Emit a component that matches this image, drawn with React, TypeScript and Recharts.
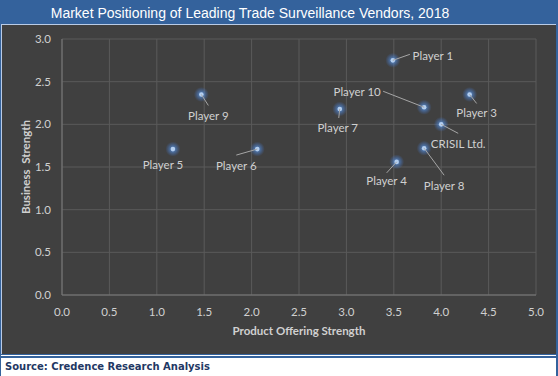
import React from 'react';
import { ScatterChart, Scatter, XAxis, YAxis, CartesianGrid } from 'recharts';

const vendors = ['Player 1', 'Player 10', 'Player 3', 'CRISIL Ltd.', 'Player 8', 'Player 4', 'Player 9', 'Player 7', 'Player 5', 'Player 6'];
const productOffering = [3.49, 3.82, 4.3, 4.0, 3.82, 3.53, 1.47, 2.93, 1.17, 2.06];
const businessStrength = [2.75, 2.2, 2.35, 2.0, 1.72, 1.56, 2.35, 2.18, 1.71, 1.71];
const xTicks = [0, 0.5, 1, 1.5, 2, 2.5, 3, 3.5, 4, 4.5, 5];
const yTicks = [0, 0.5, 1, 1.5, 2, 2.5, 3];

const titleText = 'Market Positioning of Leading Trade Surveillance Vendors, 2018';
const xTitle = 'Product Offering Strength';
const yTitle = 'Business  Strength';
const sourceText = 'Source: Credence Research Analysis';

// data-label placement (pixel offsets from the marker), like Excel's dragged labels
const labelPlacement: Record<string, { dx: number; dy: number; lx?: number; ly?: number }> = {
  'Player 1': { dx: 40, dy: -5, lx: 17, ly: -6 },
  'Player 10': { dx: -67, dy: -16, lx: -41, ly: -16 },
  'Player 3': { dx: 7, dy: 18, lx: 7, ly: 9 },
  'CRISIL Ltd.': { dx: 17, dy: 19, lx: 17, ly: 9 },
  'Player 8': { dx: 20, dy: 37, lx: 20, ly: 27 },
  'Player 4': { dx: -10, dy: 19, lx: -10, ly: 11 },
  'Player 9': { dx: 7, dy: 21, lx: 7, ly: 11 },
  'Player 7': { dx: -2, dy: 19, lx: -1, ly: 9 },
  'Player 5': { dx: -10, dy: 15 },
  'Player 6': { dx: -21, dy: 16, lx: -21, ly: 6 },
};

const data = vendors.map((name, i) => ({ name, x: productOffering[i], y: businessStrength[i] }));

const PointShape = (props: any) => {
  const { cx, cy, payload } = props;
  if (cx == null || cy == null) return null;
  const p = labelPlacement[payload.name] || { dx: 0, dy: 14 };
  return (
    <g>
      <defs>
        <radialGradient id="glow">
          <stop offset="0%" stopColor="#6a9be0" stopOpacity={0.95} />
          <stop offset="45%" stopColor="#4f82c9" stopOpacity={0.6} />
          <stop offset="100%" stopColor="#4472c4" stopOpacity={0} />
        </radialGradient>
      </defs>
      <circle cx={cx} cy={cy} r={7.5} fill="url(#glow)" />
      <circle cx={cx} cy={cy} r={2.3} fill="#b4cff0" />
      {p.lx != null && (
        <line x1={cx} y1={cy} x2={cx + p.lx} y2={cy + (p.ly as number)} stroke="#a6a6a6" strokeWidth={1} />
      )}
      <text
        x={cx + p.dx}
        y={cy + p.dy}
        textAnchor="middle"
        dominantBaseline="central"
        fill="#d0d0d0"
        fontSize={11.5}
        fontFamily="Lato, 'Open Sans', sans-serif"
      >
        {payload.name}
      </text>
    </g>
  );
};

export default function App() {
  return (
    <div style={{ position: 'absolute', left: 0, top: 0, width: 558, height: 376, background: '#34629c', overflow: 'hidden' }}>
      <div
        style={{
          position: 'absolute', left: 250, top: 12.5, transform: 'translate(-50%, -50%)', whiteSpace: 'nowrap',
          color: '#ffffff', fontFamily: "'Liberation Sans', Arial, sans-serif", fontSize: 14,
        }}
      >
        {titleText}
      </div>
      <div
        style={{
          position: 'absolute', left: 1, top: 24, width: 555, height: 330, background: '#404040',
          borderTop: '1px solid #b9cbe6', borderLeft: '1px solid #b9cbe6', boxSizing: 'border-box',
        }}
      />
      <div style={{ position: 'absolute', left: 1, top: 355, width: 555, height: 1, background: '#ffffff' }} />
      <div style={{ position: 'absolute', left: 1, top: 358, width: 555, height: 18, background: '#ffffff' }}>
        <div
          style={{
            position: 'absolute', left: 4, top: 0, height: 18, lineHeight: '18px', whiteSpace: 'nowrap',
            color: '#1f3864', fontWeight: 'bold', fontSize: 10, fontFamily: "'DejaVu Sans', Verdana, sans-serif",
          }}
        >
          {sourceText}
        </div>
      </div>
      <div style={{ position: 'absolute', left: 0, top: 0 }}>
        <ScatterChart width={558} height={376} margin={{ top: 39, right: 22, bottom: 41, left: 22 }}>
          <CartesianGrid stroke="#5a5a5a" strokeWidth={1} />
          <XAxis
            type="number"
            dataKey="x"
            domain={[0, 5]}
            ticks={xTicks}
            interval={0}
            height={40}
            tickLine={false}
            axisLine={{ stroke: '#7a7a7a' }}
            tickMargin={7}
            tickFormatter={(v: number) => v.toFixed(1)}
            tick={{ fill: '#d0d0d0', fontSize: 11.5, fontFamily: "Lato, 'Open Sans', sans-serif" }}
          />
          <YAxis
            type="number"
            dataKey="y"
            domain={[0, 3]}
            ticks={yTicks}
            interval={0}
            width={40}
            tickLine={false}
            axisLine={{ stroke: '#7a7a7a' }}
            tickMargin={5}
            tickFormatter={(v: number) => v.toFixed(1)}
            tick={{ fill: '#d0d0d0', fontSize: 11.5, fontFamily: "Lato, 'Open Sans', sans-serif" }}
          />
          <Scatter data={data} shape={PointShape} isAnimationActive={false} />
        </ScatterChart>
      </div>
      <div
        style={{
          position: 'absolute', left: 299, top: 330, transform: 'translate(-50%, -50%)', whiteSpace: 'nowrap',
          color: '#d0d0d0', fontWeight: 'bold', fontSize: 11.5, fontFamily: "Lato, 'Open Sans', sans-serif",
        }}
      >
        {xTitle}
      </div>
      <div
        style={{
          position: 'absolute', left: 25, top: 167, transform: 'translate(-50%, -50%) rotate(-90deg)', whiteSpace: 'pre',
          color: '#d0d0d0', fontWeight: 'bold', fontSize: 11.5, fontFamily: "Lato, 'Open Sans', sans-serif",
        }}
      >
        {yTitle}
      </div>
    </div>
  );
}
